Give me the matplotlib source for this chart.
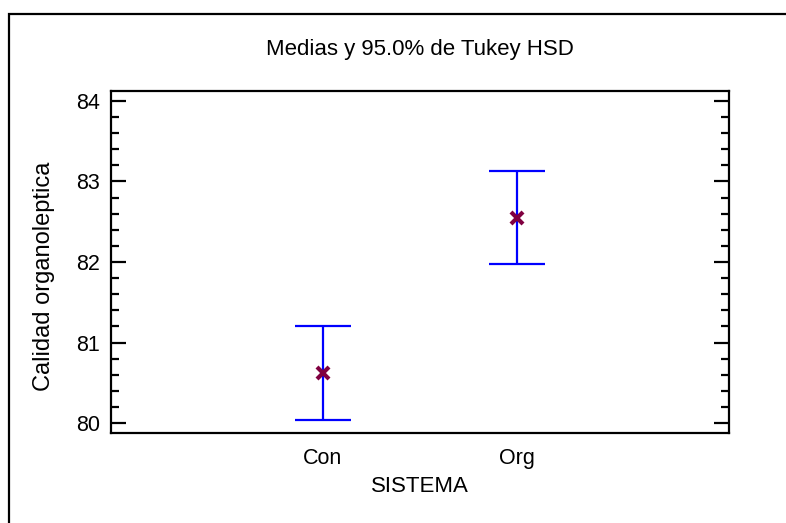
import numpy as np
import matplotlib.pyplot as plt
from matplotlib.patches import Rectangle
from matplotlib.ticker import MultipleLocator

plt.rcParams["font.family"] = ["Liberation Sans", "DejaVu Sans"]

# data
categories = ["Con", "Org"]
means = [80.62, 82.55]
lower = [80.04, 81.97]
upper = [81.20, 83.13]

W, H = 786, 523


def main():
    fig = plt.figure(figsize=(W / 100, H / 100), dpi=100)
    # axes box in pixels: left 111, right 729, top 91, bottom 433
    ax = fig.add_axes([111 / W, 1 - 433 / H, (729 - 111) / W, (433 - 91) / H])

    x = np.arange(1, len(categories) + 1)
    m = np.array(means)
    yerr = np.vstack([m - np.array(lower), np.array(upper) - m])

    ax.errorbar(x, m, yerr=yerr, fmt="none", ecolor="#0000ff",
                elinewidth=1.6, capsize=20, capthick=1.6, zorder=2)
    ax.plot(x, m, linestyle="none", marker="x", markersize=9,
            markeredgewidth=3, color="#800040", zorder=3)

    ax.set_xlim(-0.09, 3.09)
    ax.set_ylim(79.876, 84.124)
    ax.set_xticks(x)
    ax.set_xticklabels(categories)
    ax.yaxis.set_major_locator(MultipleLocator(1))
    ax.yaxis.set_minor_locator(MultipleLocator(0.2))

    for s in ax.spines.values():
        s.set_linewidth(1.6)
    ax.tick_params(axis="y", which="major", direction="in", length=11, width=1.6,
                   right=True, labelsize=15.5, pad=8)
    ax.tick_params(axis="y", which="minor", direction="in", length=6, width=1.6,
                   right=True)
    ax.tick_params(axis="x", length=0, labelsize=15.5, pad=11)

    fig.text(420 / W, 1 - 50 / H, "Medias y 95.0% de Tukey HSD", fontsize=16,
             ha="center", va="center")
    ax.set_xlabel("SISTEMA", fontsize=16)
    ax.set_ylabel("Calidad organoleptica", fontsize=17)
    ax.xaxis.set_label_coords(0.5, (433 - 487) / 342, transform=ax.transAxes)
    ax.xaxis.label.set_va("center")
    ax.yaxis.set_label_coords((44 - 111) / 618, (433 - 276) / 342)
    ax.yaxis.label.set_va("center")

    # outer frame running off the right and bottom edges
    frame = Rectangle((9 / W, -0.1), 1.2, 1 - 14 / H + 0.1, transform=fig.transFigure,
                      fill=False, edgecolor="black", linewidth=1.6, clip_on=False)
    fig.patches.append(frame)

    fig.savefig("out.png", dpi=100)
    plt.close(fig)


if __name__ == "__main__":
    main()
